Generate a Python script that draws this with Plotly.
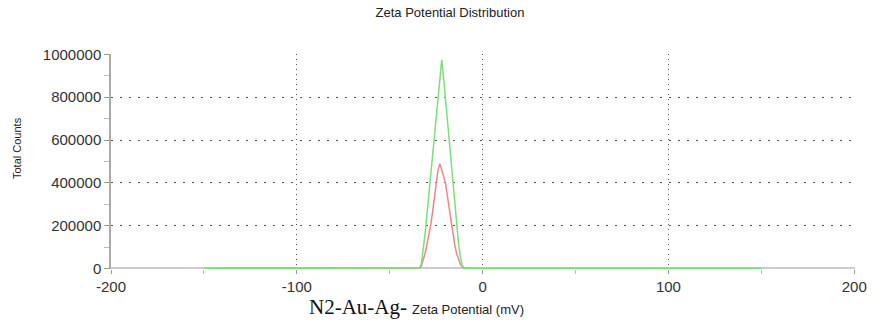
import plotly.graph_objects as go

zeta_mv = [-150, -40, -36, -34, -33, -32, -31, -30, -29, -28, -27, -26, -25, -24, -23,
           -22, -21, -20, -19, -18, -17, -16, -15, -14, -13, -12, -11, -10, -8, 150]
counts_green = [0, 0, 0, 2000, 20000, 80000, 160000, 250000, 340000, 430000, 520000,
                610000, 700000, 790000, 880000, 975000, 890000, 790000, 690000, 590000,
                490000, 390000, 290000, 200000, 120000, 55000, 15000, 2000, 0, 0]
counts_red = [0, 0, 0, 2000, 10000, 35000, 70000, 110000, 150000, 200000, 260000,
              330000, 400000, 460000, 490000, 460000, 430000, 400000, 340000, 280000,
              220000, 160000, 110000, 70000, 40000, 20000, 8000, 2000, 0, 0]

x_ticks = [-200, -100, 0, 100, 200]
y_ticks = [0, 200000, 400000, 600000, 800000, 1000000]

L, R, T, B = 111, 17, 54, 55
PW, PH = 872 - L - R, 324 - T - B

fig = go.Figure()
fig.add_trace(go.Scatter(x=zeta_mv, y=counts_red, mode="lines",
                         line=dict(color="#f08585", width=1.5), showlegend=False))
fig.add_trace(go.Scatter(x=zeta_mv, y=counts_green, mode="lines",
                         line=dict(color="#78e078", width=1.5), showlegend=False))

fig.update_layout(
    width=872, height=324,
    margin=dict(l=L, r=R, t=T, b=B),
    paper_bgcolor="white", plot_bgcolor="white",
    font=dict(family="Liberation Sans, Arial, sans-serif", color="#333333", size=15),
    title=dict(text="Zeta Potential Distribution", x=0.516, xanchor="center",
               yref="container", y=0.963, yanchor="middle",
               font=dict(size=13, color="#222222")),
    xaxis=dict(range=[-200, 200.4], tickvals=x_ticks, ticktext=[str(v) for v in x_ticks],
               automargin=False,
               showgrid=True, gridcolor="#555555", griddash="1px,4px", gridwidth=1,
               zeroline=False, showline=False,
               ticks="outside", ticklen=4, tickcolor="#999999", ticklabelstandoff=0,
               minor=dict(tickvals=[-150, -50, 50, 150], ticks="outside", ticklen=4,
                          tickcolor="#bbbbbb", showgrid=False)),
    yaxis=dict(range=[-2500, 1002000], tickvals=y_ticks, ticktext=[str(v) for v in y_ticks],
               automargin=False,
               showgrid=True, gridcolor="#555555", griddash="2px,7px", gridwidth=1,
               zeroline=True, zerolinecolor="#cccccc", zerolinewidth=1.5,
               showline=True, linecolor="#aaaaaa", linewidth=1.5,
               ticks="outside", ticklen=5, tickcolor="#999999",
               minor=dict(dtick=100000, ticks="outside", ticklen=5,
                          tickcolor="#bbbbbb", showgrid=False)),
    annotations=[
        dict(text="Total Counts", xref="paper", yref="paper", x=-(111 - 17) / PW,
             y=(269 - 148) / PH, xanchor="center", yanchor="middle", textangle=-90,
             showarrow=False, font=dict(size=11, color="#222222")),
        dict(text="N2-Au-Ag-", xref="paper", yref="paper", x=(409 - L) / PW,
             y=-(307 - 269) / PH, xanchor="right", yanchor="middle", showarrow=False,
             font=dict(family="Liberation Serif, Times New Roman, serif", size=21,
                       color="#111111")),
        dict(text="Zeta Potential (mV)", xref="paper", yref="paper", x=(410 - L) / PW,
             y=-(309 - 269) / PH, xanchor="left", yanchor="middle", showarrow=False,
             font=dict(size=13, color="#222222")),
    ],
)

fig.write_html("out.html", config={"displayModeBar": False},
               post_script="document.body.style.margin='0';")
